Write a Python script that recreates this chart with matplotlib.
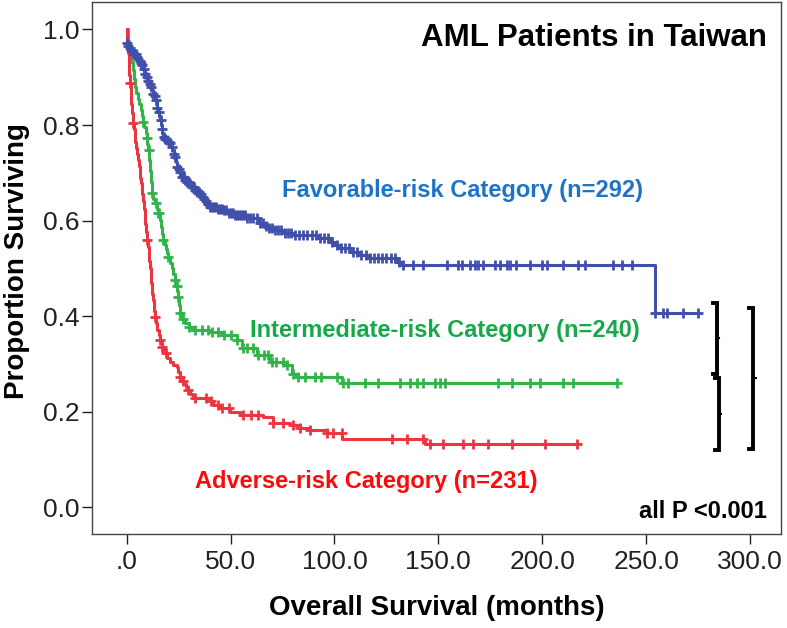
import numpy as np
import matplotlib
matplotlib.use("Agg")
import matplotlib.pyplot as plt

plt.rcParams["font.family"] = ["Liberation Sans", "DejaVu Sans"]

# --- Kaplan-Meier step points (months, proportion surviving) ---
FAV_T = [0, 0.6, 1.2, 1.8, 2.4, 3.6, 4.8, 5.4, 6, 6.6, 7.2, 7.8, 8.4, 9, 9.6, 10.2,
         10.8, 11.4, 12, 12.6, 13.2, 13.8, 14.4, 14.8, 15.2, 15.6, 16, 16.4, 16.8,
         17.2, 17.6, 18.3, 19, 19.9, 20.8, 21.4, 22, 22.6, 23.2, 23.6, 24.1, 24.7,
         25.3, 25.9, 26.5, 27.7, 28.9, 30.1, 31.3, 32.5, 33.7, 34.9, 36.1, 37.1,
         38.1, 39.1, 40.1, 43.3, 46.5, 48.9, 51.3, 57.7, 63.3, 65.7, 68.1, 70.5, 75,
         80.2, 91.4, 97.8, 100, 102.6, 107.5, 111.5, 115.5, 129.9, 132.3, 254.2, 275.1]
FAV_S = [0.971, 0.966, 0.962, 0.957, 0.953, 0.948, 0.943, 0.939, 0.935, 0.930, 0.925,
         0.918, 0.912, 0.906, 0.900, 0.893, 0.886, 0.879, 0.873, 0.866, 0.860, 0.852,
         0.845, 0.836, 0.828, 0.819, 0.810, 0.801, 0.792, 0.783, 0.775, 0.771, 0.768,
         0.765, 0.762, 0.755, 0.748, 0.740, 0.733, 0.723, 0.713, 0.707, 0.702, 0.697,
         0.692, 0.686, 0.681, 0.676, 0.671, 0.665, 0.660, 0.655, 0.650, 0.645, 0.640,
         0.634, 0.629, 0.625, 0.622, 0.616, 0.611, 0.605, 0.596, 0.589, 0.584, 0.580,
         0.574, 0.570, 0.563, 0.556, 0.549, 0.542, 0.535, 0.528, 0.521, 0.514, 0.507,
         0.406, 0.406]
FAV_CENS = [0, 0.8, 1.5, 2.2, 3, 3.6, 4.3, 5, 5.6, 6.3, 7, 7.6, 8.3, 9, 9.7, 10.4,
            11.2, 11.9, 12.6, 13.4, 14.1, 14.8, 15.5, 16.3, 17, 17.8, 18.6, 19.4,
            20.2, 21, 21.8, 22.6, 23.4, 24.2, 25, 25.8, 26.6, 27.4, 28.2, 29, 29.8,
            30.6, 31.4, 32.2, 33, 33.8, 34.7, 35.6, 36.5, 37.4, 38.3, 39.2, 40.1, 41,
            42, 43, 44, 45, 46, 47, 48, 49, 50, 51, 52, 53, 54, 55, 56, 57, 58, 59.5,
            61, 62.5, 64, 65.5, 67, 68.5, 70, 71.5, 73, 74.5, 76, 77.5, 79, 81, 83,
            85, 87, 89, 91, 93, 95, 97, 99, 101, 103, 105, 107, 109, 111, 113, 115,
            117, 119, 121, 123, 125, 127, 129, 131, 133.1, 138, 142.7, 154, 159.6,
            161.2, 165.2, 167.6, 169.2, 171.6, 177.3, 179.6, 182.9, 184.4, 187.6,
            194.1, 199.7, 202.1, 210.1, 217.3, 220.5, 234.2, 238.2, 243, 254.2,
            258.2, 259.9, 267.9, 275.1]

INT_T = [0, 0.4, 0.8, 1.2, 1.6, 2.2, 2.8, 3.4, 4.0, 4.7, 5.3, 6.0, 6.7, 7.3, 8.0,
         8.5, 9.1, 9.6, 10.0, 10.4, 10.9, 11.3, 11.6, 12.0, 12.8, 13.6, 14.4, 15.2,
         15.8, 16.4, 17.0, 17.6, 18.2, 18.8, 19.4, 20, 20.8, 21.6, 22.4, 23.2, 23.7,
         24.3, 24.8, 25.2, 25.6, 26.8, 28.1, 30, 32, 40, 46.5, 52.9, 55.3, 62.6, 69,
         75.4, 79.4, 82.6, 103.5, 235.8]
INT_S = [1.0, 0.987, 0.975, 0.962, 0.949, 0.932, 0.915, 0.897, 0.880, 0.868, 0.855,
         0.843, 0.831, 0.819, 0.807, 0.795, 0.784, 0.772, 0.760, 0.747, 0.727, 0.703,
         0.680, 0.657, 0.646, 0.636, 0.625, 0.615, 0.601, 0.587, 0.573, 0.559, 0.550,
         0.541, 0.533, 0.524, 0.512, 0.500, 0.488, 0.476, 0.464, 0.452, 0.441, 0.423,
         0.406, 0.395, 0.385, 0.378, 0.371, 0.367, 0.360, 0.350, 0.333, 0.319, 0.305,
         0.298, 0.280, 0.273, 0.261, 0.261]
INT_CENS = [8, 9.6, 10.5, 12, 14, 15.2, 15.5, 17.6, 20, 23.2, 24, 24.8, 25.6, 27, 30,
            33, 36, 39, 41, 44, 47, 50, 53, 56, 58, 61, 63, 66, 68, 70, 72, 75, 77,
            80, 82.6, 85.8, 90.6, 93.7, 101, 104.2, 106.6, 114.7, 121.1, 131.5,
            136.3, 139.5, 142.7, 148.3, 150.8, 153.2, 178.8, 185.3, 194, 198.8,
            210.1, 214.9, 235.8]

ADV_T = [0, 0.3, 0.6, 1.0, 1.3, 1.6, 2.0, 2.3, 2.7, 3.0, 3.4, 3.8, 4.2, 4.6, 5.0,
         5.4, 5.8, 6.2, 6.5, 6.9, 7.2, 7.5, 7.9, 8.2, 8.6, 9.0, 9.4, 9.8, 10.1, 10.5,
         10.8, 11.1, 11.5, 11.8, 12.1, 12.4, 12.7, 13.0, 13.3, 13.6, 14.2, 14.8, 15.4,
         16, 16.6, 17.2, 17.8, 18.4, 19.6, 20.8, 22.5, 24.2, 24.9, 25.6, 26.5, 27.5,
         28.5, 29.5, 30.7, 31.9, 40, 41.6, 45, 49.7, 54.5, 65.6, 70.4, 78.6, 83.4,
         88.2, 96.2, 103.5, 143.5, 216.6]
ADV_S = [1.0, 0.975, 0.950, 0.925, 0.905, 0.889, 0.865, 0.845, 0.825, 0.804, 0.791,
         0.778, 0.765, 0.752, 0.739, 0.726, 0.714, 0.702, 0.690, 0.678, 0.667, 0.655,
         0.640, 0.625, 0.610, 0.593, 0.576, 0.559, 0.545, 0.530, 0.515, 0.500, 0.485,
         0.470, 0.458, 0.446, 0.434, 0.422, 0.410, 0.398, 0.385, 0.372, 0.361, 0.350,
         0.343, 0.336, 0.330, 0.323, 0.313, 0.304, 0.298, 0.294, 0.283, 0.273, 0.265,
         0.258, 0.251, 0.245, 0.237, 0.229, 0.222, 0.214, 0.207, 0.199, 0.193, 0.188,
         0.177, 0.172, 0.166, 0.162, 0.155, 0.144, 0.132, 0.132]
ADV_CENS = [1.6, 3, 9.8, 13.6, 16, 17.2, 19, 25.6, 27, 29.5, 33, 38, 40.5, 44, 46, 49,
            56, 60, 63, 70.4, 75, 80, 83.4, 88.2, 96.2, 99.4, 103.4, 127.5, 134.8,
            142.7, 146, 152.3, 162, 166.8, 174, 185.3, 201.3, 216.5]

GROUPS = [
    ("Favorable-risk Category (n=292)", FAV_T, FAV_S, FAV_CENS, "#4050AA", "#1F73C6"),
    ("Intermediate-risk Category (n=240)", INT_T, INT_S, INT_CENS, "#33B44A", "#17A84A"),
    ("Adverse-risk Category (n=231)", ADV_T, ADV_S, ADV_CENS, "#EB3540", "#FF0A0A"),
]
LABEL_POS = [(74.6, 0.664), (59.3, 0.371), (32.9, 0.053)]

# pairwise log-rank brackets: (x, y_low, y_high)
BRACKETS = [(284, 0.280, 0.428), (285, 0.120, 0.270), (301.5, 0.123, 0.418)]

fig = plt.figure(figsize=(7.87, 6.28), dpi=100)
ax = fig.add_axes([92 / 787, 94.5 / 628, 689 / 787, 531.5 / 628])

for (name, t, s, cens, col, tcol), (lx, ly) in zip(GROUPS, LABEL_POS):
    t = np.array(t)
    s = np.array(s)
    ax.plot(t, s, drawstyle="steps-post", color=col, lw=2.2, zorder=3)
    c = np.array(cens)
    idx = np.searchsorted(t, c, side="right") - 1
    ax.plot(c, s[idx], ls="none", marker="+", ms=7, mew=2.0, color=col, zorder=4)
    ax.text(lx, ly, name, color=tcol, fontsize=17, fontweight="bold",
            ha="left", va="center")

for x, y0, y1 in BRACKETS:
    ym = (y0 + y1) / 2
    ax.plot([x - 2, x, x, x - 2], [y1, y1, y0, y0], color="black", lw=2.8,
            solid_joinstyle="miter", zorder=5)
    ax.plot([x, x + 1.2], [ym, ym], color="black", lw=1.5, zorder=5)

ax.text(308, 0.982, "AML Patients in Taiwan", fontsize=22.5, fontweight="bold",
        ha="right", va="center")
ax.text(308, -0.009, "all P <0.001", fontsize=17, fontweight="bold",
        ha="right", va="center")

ax.set_xlim(-16.7, 314.9)
ax.set_ylim(-0.0548, 1.0575)
xt = [0, 50, 100, 150, 200, 250, 300]
ax.set_xticks(xt)
ax.set_xticklabels([".0", "50.0", "100.0", "150.0", "200.0", "250.0", "300.0"])
ax.set_yticks([0, 0.2, 0.4, 0.6, 0.8, 1.0])
ax.set_yticklabels(["0.0", "0.2", "0.4", "0.6", "0.8", "1.0"])
ax.tick_params(direction="out", length=7, width=1, labelsize=19, colors="#222222")
ax.tick_params(axis="x", pad=5)
ax.tick_params(axis="y", pad=2)
for sp in ax.spines.values():
    sp.set_color("#444444")
    sp.set_linewidth(1.0)

ax.set_xlabel("Overall Survival (months)", fontsize=20, fontweight="bold", va="center")
ax.set_ylabel("Proportion Surviving", fontsize=20, fontweight="bold", va="center")
ax.xaxis.set_label_coords(0.5, -0.140)
ax.yaxis.set_label_coords(-0.109, 0.513)

fig.savefig("out.png", dpi=100)
